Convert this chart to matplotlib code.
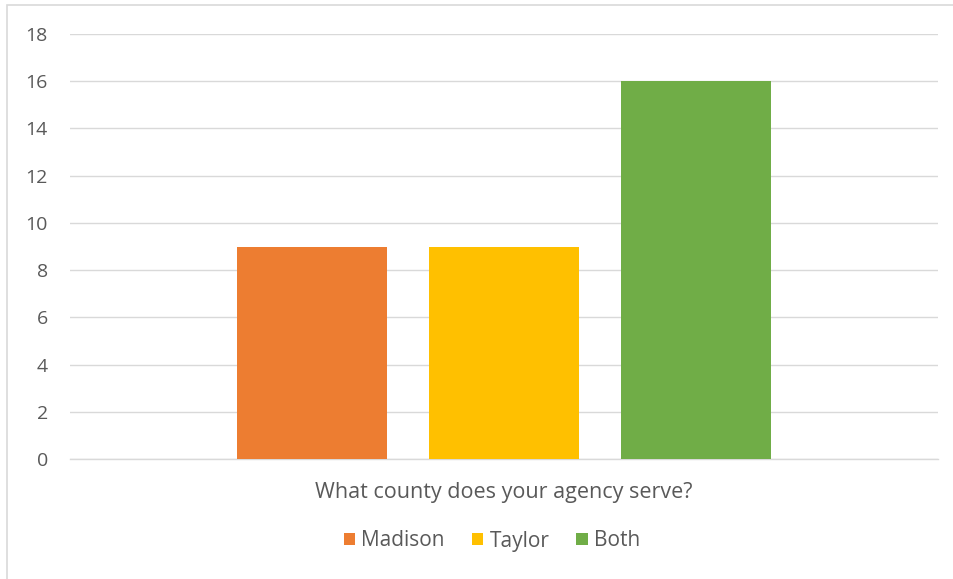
import matplotlib
matplotlib.use("Agg")
import matplotlib.pyplot as plt
from matplotlib.patches import Patch, Rectangle

category = "What county does your agency serve?"
series_names = ["Madison", "Taylor", "Both"]
series_values = [9, 9, 16]
colors = ["#ED7D31", "#FFC000", "#70AD47"]
yticks = [0, 2, 4, 6, 8, 10, 12, 14, 16, 18]

plt.rcParams['font.family'] = ['Open Sans', 'DejaVu Sans']
fig = plt.figure(figsize=(9.54, 5.79), dpi=100)
fig.patch.set_facecolor("white")

# chart border
fig.add_artist(Rectangle((7.5/954, -0.01), 1.0, 1 - 4.5/579 + 0.01, transform=fig.transFigure,
                         fill=False, edgecolor="#d9d9d9", linewidth=1.2))

ax = fig.add_axes([70/954, 1 - 459/579, (938-70)/954, (459-34)/579])
bar_w = 0.1728
step = 0.2212
n = len(series_names)
for i, (name, val, c) in enumerate(zip(series_names, series_values, colors)):
    ax.bar((i - (n-1)/2) * step, val, width=bar_w, color=c, label=name, zorder=3)

ax.set_xlim(-0.5, 0.5)
ax.set_ylim(0, 18)
ax.set_yticks(yticks)
ax.set_yticklabels([str(t) for t in yticks])
ax.set_xticks([0])
ax.set_xticklabels([category])
ax.tick_params(axis='y', length=0, labelsize=14, colors="#595959", pad=16)
ax.tick_params(axis='x', length=0, labelsize=15.5, colors="#595959", pad=16.5)
ax.grid(axis='y', color="#d9d9d9", linewidth=1, zorder=0)
for s in ["top", "right", "left"]:
    ax.spines[s].set_visible(False)
ax.spines["bottom"].set_color("#d9d9d9")
ax.spines["bottom"].set_linewidth(1)

handles = [Patch(facecolor=c, label=nm) for nm, c in zip(series_names, colors)]
leg = fig.legend(handles=handles, loc="center", bbox_to_anchor=(492/954, 1 - 541/579),
                 ncol=3, frameon=False, fontsize=15, handlelength=0.55, handleheight=0.55,
                 handletextpad=0.3, columnspacing=1.3, labelcolor="#595959")

fig.savefig("out.png", dpi=100, facecolor="white")
